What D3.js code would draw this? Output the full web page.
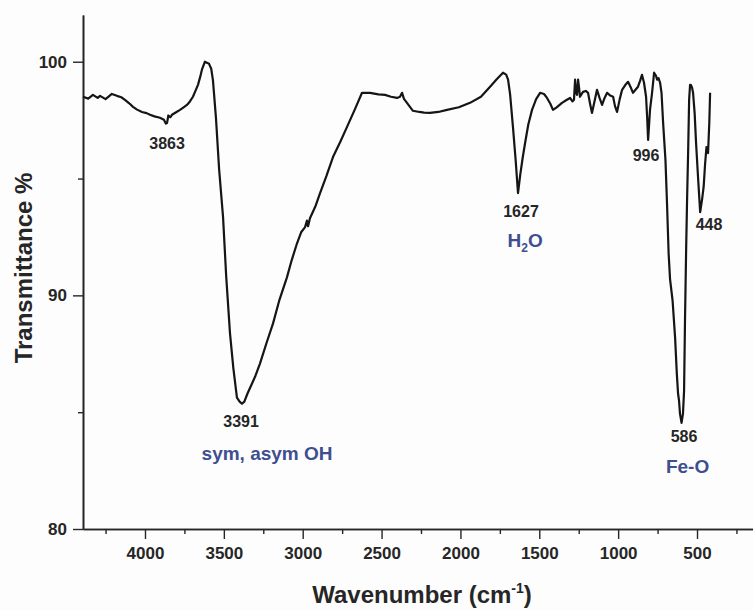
<!DOCTYPE html>
<html>
<head>
<meta charset="utf-8">
<script src="https://cdn.jsdelivr.net/npm/d3@7/dist/d3.min.js"></script>
<style>
  html, body { margin: 0; padding: 0; background: #fdfdfd; }
  svg { display: block; }
  text { font-family: "Liberation Sans", Arial, Helvetica, sans-serif; }
</style>
</head>
<body>
<svg id="chart" width="753" height="611"></svg>
<script>
// ---- data (wavenumber in cm^-1, transmittance in %) ----
const wavenumber = [4393,4360,4330,4300,4285,4250,4210,4178,4150,4127,4100,4076,4050,4019,3990,3968,3940,3905,3880,3868,3860,3852,3840,3829,3800,3778,3755,3734,3715,3696,3680,3664,3650,3639,3620,3605,3594,3580,3569,3550,3530,3505,3485,3461,3440,3417,3400,3385,3370,3350,3322,3300,3271,3230,3188,3150,3100,3070,3036,3010,2985,2973,2966,2954,2920,2890,2850,2808,2760,2719,2670,2624,2573,2520,2478,2440,2402,2383,2370,2358,2340,2320,2301,2260,2230,2193,2140,2085,2010,1939,1870,1812,1770,1730,1710,1698,1685,1667,1650,1635,1620,1605,1590,1570,1546,1520,1495,1470,1451,1430,1413,1390,1356,1330,1305,1290,1280,1273,1267,1261,1254,1248,1242,1223,1205,1191,1178,1166,1150,1134,1118,1102,1086,1070,1050,1032,1020,1007,990,975,955,937,920,906,890,874,860,849,836,823,816,810,804,798,785,772,760,753,744,734,725,715,700,690,680,671,655,639,628,620,614,608,598,589,582,576,569,563,556,550,544,538,531,525,515,506,493,480,468,458,449,440,430,422,417,411,405,398];
const transmittance = [98.50,98.42,98.58,98.45,98.54,98.40,98.62,98.54,98.48,98.37,98.22,98.07,97.95,97.85,97.80,97.73,97.66,97.60,97.52,97.35,97.38,97.70,97.62,97.73,97.85,97.94,98.05,98.15,98.30,98.50,98.75,99.01,99.35,99.66,100.00,99.95,99.91,99.70,99.20,97.60,95.40,93.35,90.80,88.37,86.90,85.62,85.45,85.36,85.45,85.80,86.22,86.55,87.08,87.95,88.80,89.75,90.77,91.50,92.23,92.70,92.92,93.20,92.96,93.30,93.80,94.38,95.10,95.92,96.60,97.21,97.95,98.67,98.67,98.60,98.58,98.50,98.45,98.50,98.67,98.41,98.25,98.07,97.90,97.85,97.82,97.81,97.85,97.94,98.05,98.24,98.50,98.93,99.25,99.53,99.45,99.23,98.60,97.21,95.80,94.38,95.20,95.90,96.52,97.30,97.94,98.40,98.67,98.62,98.45,98.20,97.94,98.05,98.24,98.35,98.45,98.30,98.37,99.23,98.70,98.58,99.23,98.90,98.50,98.71,98.75,98.67,98.20,97.81,98.30,98.80,98.45,98.15,98.45,98.67,98.55,98.50,98.10,97.85,98.40,98.80,99.00,99.14,98.90,98.67,98.80,98.93,99.20,99.44,99.10,98.50,97.60,96.65,97.30,97.94,98.67,99.53,99.40,99.23,99.30,99.10,98.67,97.40,95.79,93.90,91.80,90.70,89.79,88.20,86.65,85.79,85.50,84.94,84.54,84.94,85.92,89.00,91.93,94.08,96.22,98.37,99.01,99.00,98.88,98.67,97.80,96.52,95.00,93.56,94.10,94.64,95.60,96.35,96.09,97.40,98.67];

const xTicks = [4000,3500,3000,2500,2000,1500,1000,500];
const xMinorTicks = [4250,3750,3250,2750,2250,1750,1250,750,250];
const yTicks = [80,90,100];
const yMinorTicks = [85,95];

const peakLabels = ["3863","3391","1627","996","586","448"];
const peakWn     = [3860, 3391, 1616, 823, 582, 424];
const peakT      = [96.27, 84.37, 93.36, 95.76, 83.73, 92.81];

const bandLabels = ["sym, asym OH","H2O","Fe-O"];
const bandWn     = [3226, 1590, 560];
const bandT      = [82.96, 92.08, 82.40];

// ---- drawing ----
const svg = d3.select("#chart");
const plotL = 83, plotR = 753, plotT = 15, plotB = 529;

const x = d3.scaleLinear().domain([4393, 145]).range([plotL, plotR]);
const y = d3.scaleLinear().domain([80, 102]).range([plotB, plotT]);

const ink = "#262626";
const blue = "#3d4f8e";

// X axis
svg.append("g").attr("transform", `translate(0,${plotB})`)
  .call(d3.axisBottom(x).tickValues(xTicks).tickSize(10).tickPadding(8).tickFormat(d3.format("d")).tickSizeOuter(0));
svg.append("g").attr("transform", `translate(0,${plotB})`)
  .call(d3.axisBottom(x).tickValues(xMinorTicks).tickSize(5).tickFormat("").tickSizeOuter(0));

// Y axis
svg.append("g").attr("transform", `translate(${plotL},0)`)
  .call(d3.axisLeft(y).tickValues(yTicks).tickSize(10).tickPadding(6).tickFormat(d3.format("d")).tickSizeOuter(0));
svg.append("g").attr("transform", `translate(${plotL},0)`)
  .call(d3.axisLeft(y).tickValues(yMinorTicks).tickSize(5).tickFormat("").tickSizeOuter(0));

svg.selectAll(".domain").attr("stroke", ink).attr("stroke-width", 1.6);
svg.selectAll(".tick line").attr("stroke", ink).attr("stroke-width", 1.4);
svg.selectAll(".tick text").attr("fill", ink).style("font-size", "17px").style("font-weight", "bold");

// Spectrum
const pts = wavenumber.map((w, i) => [w, transmittance[i]]);
svg.append("path")
  .datum(pts)
  .attr("fill", "none")
  .attr("stroke", "#151515")
  .attr("stroke-width", 2.2)
  .attr("stroke-linejoin", "round")
  .attr("d", d3.line().x(d => x(d[0])).y(d => y(d[1])));

// Peak labels
svg.append("g").selectAll("text").data(peakLabels).join("text")
  .attr("x", (d, i) => x(peakWn[i]))
  .attr("y", (d, i) => y(peakT[i]))
  .attr("text-anchor", "middle")
  .attr("fill", ink)
  .style("font-size", "16px")
  .style("font-weight", "bold")
  .text(d => d);

// Band labels
const bl = svg.append("g").selectAll("text").data(bandLabels).join("text")
  .attr("x", (d, i) => x(bandWn[i]))
  .attr("y", (d, i) => y(bandT[i]))
  .attr("text-anchor", "middle")
  .attr("fill", blue)
  .style("font-size", "19px")
  .style("font-weight", "bold");
bl.each(function(d) {
  const t = d3.select(this);
  if (d === "H2O") {
    t.append("tspan").text("H");
    t.append("tspan").attr("dy", 5).style("font-size", "12px").text("2");
    t.append("tspan").attr("dy", -5).text("O");
  } else {
    t.text(d);
  }
});

// Axis titles
const xt = svg.append("text")
  .attr("x", 422).attr("y", 603)
  .attr("text-anchor", "middle")
  .attr("fill", ink)
  .style("font-size", "24px")
  .style("font-weight", "bold");
xt.append("tspan").text("Wavenumber (cm");
xt.append("tspan").attr("dy", -10).style("font-size", "14px").text("-1");
xt.append("tspan").attr("dy", 10).text(")");

svg.append("text")
  .attr("transform", "translate(32,268) rotate(-90)")
  .attr("text-anchor", "middle")
  .attr("fill", ink)
  .style("font-size", "24px")
  .style("font-weight", "bold")
  .text("Transmittance %");
</script>
</body>
</html>
